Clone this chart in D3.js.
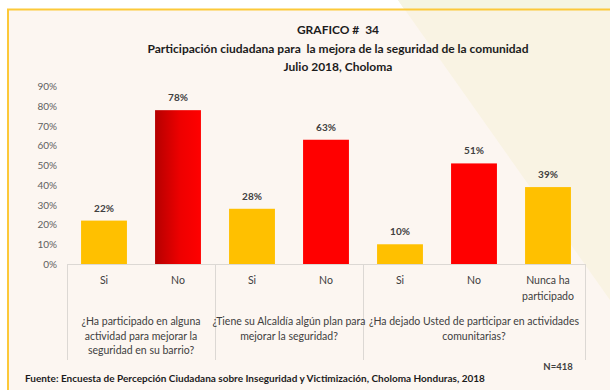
<!DOCTYPE html>
<html>
<head>
<meta charset="utf-8">
<script src="https://cdn.jsdelivr.net/npm/d3@7"></script>
<style>
  html, body { margin: 0; padding: 0; background: #ffffff; }
  svg { display: block; }
  text { font-family: Lato, "Open Sans", sans-serif; white-space: pre; }
</style>
</head>
<body>
<svg id="chart" width="610" height="390"></svg>
<script>
// Survey answers, one bar per answer
const categories = ["Si", "No", "Si", "No", "Si", "No", "Nunca ha|participado"];
const values = [22, 78, 28, 63, 10, 51, 39];
const barKinds = ["yes", "no-dark", "yes", "no", "yes", "no", "yes"];
const questions = [
  "¿Ha participado en alguna|actividad para mejorar la|seguridad en su barrio?",
  "¿Tiene su Alcaldía algún plan para|mejorar la seguridad?",
  "¿Ha dejado Usted de participar en actividades|comunitarias?"
];
const questionSpans = [[0, 1], [2, 3], [4, 6]];
const yTicks = [0, 10, 20, 30, 40, 50, 60, 70, 80, 90];
const titleLines = ["GRAFICO #  34",
  "Participación ciudadana para  la mejora de la seguridad de la comunidad",
  "Julio 2018, Choloma"];
const sourceNote = "Fuente: Encuesta de Percepción Ciudadana sobre Inseguridad y Victimización, Choloma Honduras, 2018";
const sampleNote = "N=418";

const svg = d3.select("#chart");
const W = 610, H = 390;

// Panel background with a pale diagonal sweep at the upper right
svg.append("rect").attr("x", 8).attr("y", 9).attr("width", W - 8).attr("height", H - 9)
  .attr("fill", "#fcf6f1");
svg.append("path").attr("d", "M398,0 L610,0 L610,300 Z").attr("fill", "#f9f3e3");
svg.append("path").attr("d", "M398,0 L610,0 L610,9 L404,9 Z").attr("fill", "#f5f5e2");
svg.append("path").attr("d", "M8,390 L8,9.5 L610,9.5")
  .attr("fill", "none").attr("stroke", "#fcc93a").attr("stroke-width", 2);

const defs = svg.append("defs");
const grad = defs.append("linearGradient").attr("id", "darkRed")
  .attr("x1", "0%").attr("x2", "100%").attr("y1", "0%").attr("y2", "0%");
grad.append("stop").attr("offset", "0%").attr("stop-color", "#b50000");
grad.append("stop").attr("offset", "55%").attr("stop-color", "#ee0000");
grad.append("stop").attr("offset", "100%").attr("stop-color", "#ff0000");

const fills = { "yes": "#ffc000", "no": "#ff0000", "no-dark": "url(#darkRed)" };

const x = d3.scaleBand().domain(d3.range(values.length)).range([67, 585]).paddingInner(0.38).paddingOuter(0.19);
const y = d3.scaleLinear().domain([0, 90]).range([264, 86.5]);

// Title
svg.append("g").selectAll("text").data(titleLines).join("text")
  .attr("x", 338).attr("y", (d, i) => 34 + i * 18.5)
  .attr("text-anchor", "middle").attr("font-weight", "bold")
  .attr("font-size", 12).attr("fill", "#1c1c1c")
  .attr("xml:space", "preserve")
  .text(d => d);

// Y axis labels
const yAxis = d3.axisLeft(y).tickValues(yTicks).tickFormat(d => d + "%").tickSize(0).tickPadding(10);
const gy = svg.append("g").attr("transform", "translate(67,0)").call(yAxis);
gy.select(".domain").remove();
gy.selectAll("text").attr("font-size", 10).attr("fill", "#5f5f5f")
  .style("font-family", "Lato, sans-serif");

// Bars
svg.append("g").selectAll("rect").data(values).join("rect")
  .attr("x", (d, i) => x(i)).attr("width", x.bandwidth())
  .attr("y", d => y(d)).attr("height", d => y(0) - y(d))
  .attr("fill", (d, i) => fills[barKinds[i]]);

// Value labels
svg.append("g").selectAll("text").data(values).join("text")
  .attr("x", (d, i) => x(i) + x.bandwidth() / 2).attr("y", d => y(d) - 9)
  .attr("text-anchor", "middle").attr("font-size", 10).attr("font-weight", "bold")
  .attr("fill", "#404040").text(d => d + "%");

// Category axis box
const axisG = svg.append("g").attr("stroke", "#dcd8d4").attr("stroke-width", 1).attr("fill", "none");
axisG.append("line").attr("x1", 67).attr("x2", 585).attr("y1", y(0) + 0.5).attr("y2", y(0) + 0.5);
const step = x.step();
const bounds = [0, 2, 4, 7].map(i => 67 + i * step);
axisG.selectAll("line.sep").data(bounds).join("line").attr("class", "sep")
  .attr("x1", d => Math.round(d) + 0.5).attr("x2", d => Math.round(d) + 0.5)
  .attr("y1", y(0)).attr("y2", 360);

// Answer labels
const catG = svg.append("g");
categories.forEach((c, i) => {
  const t = catG.append("text").attr("text-anchor", "middle").attr("font-size", 10.5).attr("fill", "#404040");
  c.split("|").forEach((ln, k) => {
    t.append("tspan").attr("x", x(i) + x.bandwidth() / 2).attr("y", 284 + k * 15.5).text(ln);
  });
});

// Question labels
questions.forEach((q, j) => {
  const [a, b] = questionSpans[j];
  const cx = (67 + a * step + 67 + (b + 1) * step) / 2;
  const t = svg.append("text").attr("text-anchor", "middle").attr("font-size", 10.5).attr("fill", "#404040");
  q.split("|").forEach((ln, k) => {
    t.append("tspan").attr("x", cx).attr("y", 325 + k * 14.5).text(ln);
  });
});

svg.append("text").attr("x", 558).attr("y", 370).attr("text-anchor", "middle")
  .attr("font-size", 9.5).attr("font-weight", "bold").attr("fill", "#404040").text(sampleNote);
svg.append("text").attr("x", 25).attr("y", 382)
  .attr("font-size", 10).attr("font-weight", "bold").attr("fill", "#1c1c1c").text(sourceNote);
</script>
</body>
</html>
